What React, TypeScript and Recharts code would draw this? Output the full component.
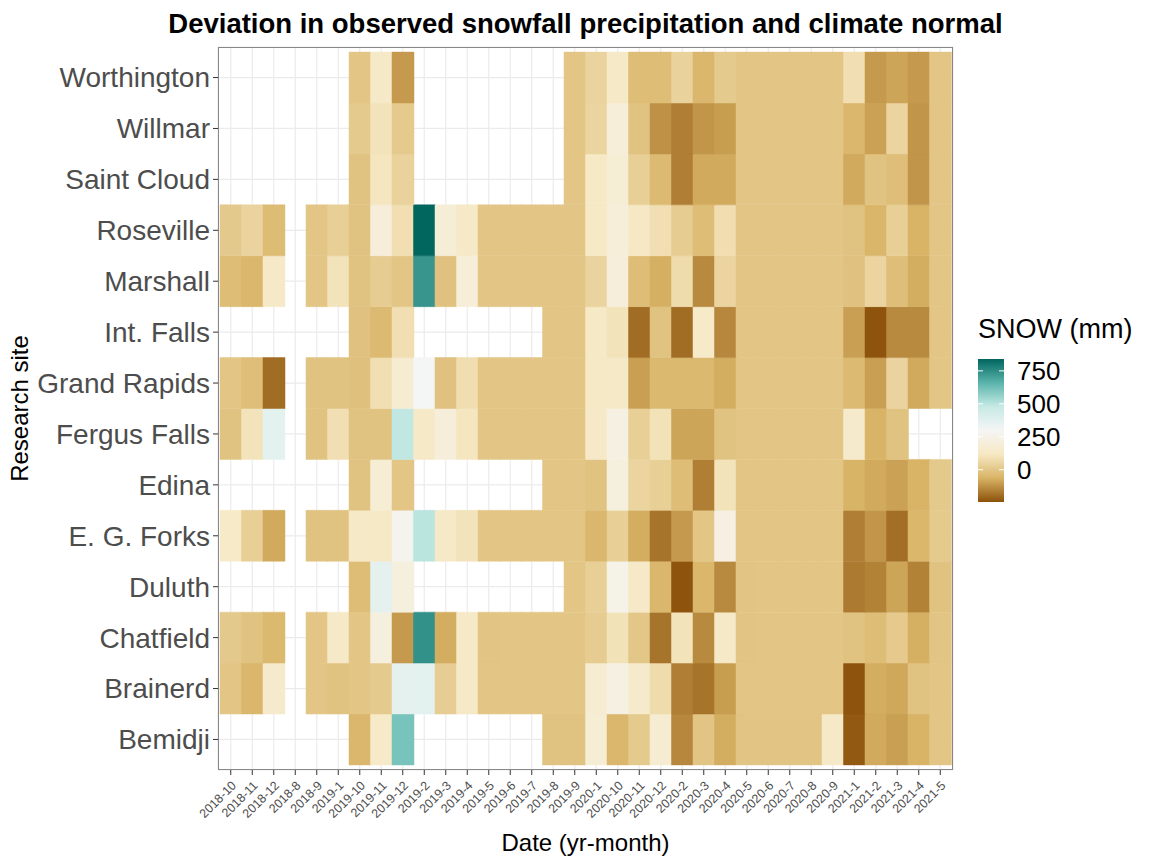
import { BarChart, Bar, Cell, XAxis, YAxis, CartesianGrid } from "recharts";

const N = null;

// x categories, in the (alphabetical) order the original plot used
const months = [
  "2018-10", "2018-11", "2018-12", "2018-8", "2018-9", "2019-1", "2019-10",
  "2019-11", "2019-12", "2019-2", "2019-3", "2019-4", "2019-5", "2019-6",
  "2019-7", "2019-8", "2019-9", "2020-1", "2020-10", "2020-11", "2020-12",
  "2020-2", "2020-3", "2020-4", "2020-5", "2020-6", "2020-7", "2020-8",
  "2020-9", "2021-1", "2021-2", "2021-3", "2021-4", "2021-5",
];

// bottom to top
const siteNames = [
  "Bemidji", "Brainerd", "Chatfield", "Duluth", "E. G. Forks", "Edina",
  "Fergus Falls", "Grand Rapids", "Int. Falls", "Marshall", "Roseville",
  "Saint Cloud", "Willmar", "Worthington",
];

// snowfall deviation (mm), one value per month, null = no data
const bemidji = [N, N, N, N, N, N, -50, 140, 610, N, N, N, N, N, N, -10, -10, 180, -50, 15, 170, -145, -5, -75, -5, -5, -5, -5, 135, -230, -80, -100, -60, 0];
const brainerd = [0, -50, 150, N, 0, -10, 0, 15, 360, 370, 25, 130, 0, 0, 0, 0, 0, 170, 230, 150, 75, -160, -180, -105, 0, 0, 0, 0, 0, -240, -75, -85, -10, 0];
const chatfield = [10, -10, -45, N, 0, 130, 0, 210, -110, 740, -75, 130, -5, 0, 0, 0, 0, 20, 95, 5, -180, 100, -140, 130, -5, 0, 0, 0, 0, -10, -30, 12, -70, -5];
const duluth = [N, N, N, N, N, N, -30, 360, 210, N, N, N, N, N, N, N, 0, 30, 250, 130, -50, -240, -52, -140, -5, 0, 0, 0, 0, -170, -155, -90, -155, -10];
const egForks = [140, 30, -80, N, -10, -10, 130, 125, 270, 500, 130, 100, 0, 0, 0, 0, 0, -50, 30, -75, -180, -110, 0, 230, 0, 0, 0, 0, 0, -160, -118, -190, -52, 15];
const edina = [N, N, N, N, N, N, -10, 180, 0, N, N, N, N, N, N, 0, 0, -10, 210, 50, 30, -30, -160, 100, 0, 0, 0, 0, 0, -62, -80, -95, -60, 10];
const fergusFalls = [-10, 100, 370, N, -10, 85, -10, -10, 490, 130, 200, 110, 0, 0, 0, 0, 0, 135, 230, 30, 95, -90, -90, -10, 0, 0, 0, 0, 0, 150, -60, -10, N, N];
const grandRapids = [0, -25, -195, N, -10, -10, -20, 85, 170, 300, -15, 80, 0, 0, 0, 0, 0, 125, 130, -100, -45, -45, -45, -75, 0, 0, 0, 0, 0, -40, -100, 45, -80, 0];
const intFalls = [N, N, N, N, N, N, -15, -40, 85, N, N, N, N, N, N, 0, 0, 125, 100, -195, -10, -195, 140, -145, 0, 0, 0, 0, 0, -100, -240, -140, -140, 0];
const marshall = [-30, -52, 135, N, 0, 100, -10, 20, 0, 730, -15, 195, 0, 0, 0, 0, 0, 45, 200, -30, -70, 75, -140, 50, 0, 0, 0, 0, 0, -15, 50, -25, -75, 0];
const roseville = [10, 45, -35, N, 0, 30, -10, 200, 85, 840, 190, 130, 0, 0, 0, 0, 0, 125, 195, 120, 85, 20, -30, 80, 0, 0, 0, 0, 0, -10, -55, 30, -60, 0];
const saintCloud = [N, N, N, N, N, N, -10, 110, 40, N, N, N, N, N, N, N, 0, 125, 180, 30, -40, -160, -80, -80, 0, 0, 0, 0, 0, -80, -10, -28, -118, 0];
const willmar = [N, N, N, N, N, N, 15, 100, 15, N, N, N, N, N, N, N, 0, 50, 195, -10, -125, -160, -118, -105, 0, 0, 0, 0, 0, -50, -95, 50, -118, 0];
const worthington = [N, N, N, N, N, N, 0, 130, -110, N, N, N, N, N, N, N, 0, 45, 130, -30, -30, 40, -50, 15, 0, 0, 0, 0, 0, 85, -110, -90, -110, 0];

const siteValues = [
  bemidji, brainerd, chatfield, duluth, egForks, edina, fergusFalls,
  grandRapids, intFalls, marshall, roseville, saintCloud, willmar, worthington,
];

const legendBreaks = [0, 250, 500, 750];
const scaleMin = -245;
const scaleMax = 840;

// BrBG, 7 classes
const PALETTE = ["#8c510a", "#d8b365", "#f6e8c3", "#f5f5f5", "#c7eae5", "#5ab4ac", "#01665e"];

function hexToRgb(h: string) {
  return [1, 3, 5].map((i) => parseInt(h.slice(i, i + 2), 16));
}

function snowColor(v: number) {
  const t = Math.min(1, Math.max(0, (v - scaleMin) / (scaleMax - scaleMin)));
  const pos = t * (PALETTE.length - 1);
  const i = Math.min(PALETTE.length - 2, Math.floor(pos));
  const f = pos - i;
  const a = hexToRgb(PALETTE[i]);
  const b = hexToRgb(PALETTE[i + 1]);
  const c = a.map((x, k) => Math.round(x + (b[k] - x) * f));
  return `rgb(${c[0]},${c[1]},${c[2]})`;
}

const rows = months.map((month) => {
  const row: Record<string, string | number> = { month };
  siteNames.forEach((_, si) => {
    row[`u${si}`] = 1;
  });
  return row;
});

const FONT = "'Liberation Sans', Arial, sans-serif";
const W = 1150;
const H = 859;
const PLOT = { left: 218, top: 47, right: 953, bottom: 770 };

function MonthTick(props: any) {
  const { x, y, payload } = props;
  return (
    <text
      transform={`translate(${x},${y + 3}) rotate(-45)`}
      textAnchor="end"
      dy="0.71em"
      fontSize={12.5}
      fill="#4d4d4d"
      fontFamily={FONT}
    >
      {payload.value}
    </text>
  );
}

function ColourLegend() {
  const barX = 978;
  const barW = 26;
  const barTop = 359;
  const barBottom = 502;
  const yOf = (v: number) =>
    barBottom - ((v - scaleMin) / (scaleMax - scaleMin)) * (barBottom - barTop);
  return (
    <g fontFamily={FONT}>
      <defs>
        <linearGradient id="snowGrad" x1="0" y1="1" x2="0" y2="0">
          {PALETTE.map((c, i) => (
            <stop key={c} offset={i / (PALETTE.length - 1)} stopColor={c} />
          ))}
        </linearGradient>
      </defs>
      <text x={978} y={338} fontSize={27} fill="#000">
        SNOW (mm)
      </text>
      <rect x={barX} y={barTop} width={barW} height={barBottom - barTop} fill="url(#snowGrad)" />
      {legendBreaks.map((b) => (
        <g key={b}>
          <line x1={barX} x2={barX + 5} y1={yOf(b)} y2={yOf(b)} stroke="#fff" strokeWidth={1} />
          <line x1={barX + barW - 5} x2={barX + barW} y1={yOf(b)} y2={yOf(b)} stroke="#fff" strokeWidth={1} />
          <text x={1017} y={yOf(b)} dy="0.36em" fontSize={26} fill="#000">
            {b}
          </text>
        </g>
      ))}
    </g>
  );
}

export default function App() {
  const cx = (PLOT.left + PLOT.right) / 2;
  const cy = (PLOT.top + PLOT.bottom) / 2;
  return (
    <div style={{ position: "relative", width: W, height: H, background: "#fff", fontFamily: FONT }}>
      <style>{`body{margin:0}`}</style>
      <BarChart
        width={W}
        height={H}
        data={rows}
        margin={{ top: PLOT.top, right: W - PLOT.right, bottom: 0, left: 0 }}
        barCategoryGap={0}
        barGap={0}
      >
        <CartesianGrid stroke="#ebebeb" strokeWidth={1.2} />
        <XAxis
          dataKey="month"
          type="category"
          interval={0}
          height={H - PLOT.bottom}
          padding={{ left: 2, right: 2 }}
          axisLine={false}
          tickLine={{ stroke: "#333" }}
          tickSize={5}
          tick={<MonthTick />}
        />
        <YAxis
          type="number"
          domain={[-0.1, siteNames.length + 0.1]}
          allowDataOverflow
          ticks={siteNames.map((_, i) => i + 0.5)}
          tickFormatter={(v: number) => siteNames[Math.floor(v)]}
          width={PLOT.left}
          axisLine={false}
          tickLine={{ stroke: "#333" }}
          tickSize={5}
          tickMargin={3}
          tick={{ fontSize: 28, fill: "#4d4d4d", fontFamily: FONT }}
        />
        {siteNames.map((name, si) => (
          <Bar key={name} dataKey={`u${si}`} stackId="tiles" isAnimationActive={false}>
            {months.map((m, mi) => {
              const v = siteValues[si][mi];
              const fill = v == null ? "transparent" : snowColor(v);
              return (
                <Cell
                  key={m}
                  fill={fill}
                  stroke={v == null ? "none" : fill}
                  strokeWidth={0.5}
                />
              );
            })}
          </Bar>
        ))}
      </BarChart>
      <svg
        width={W}
        height={H}
        style={{ position: "absolute", left: 0, top: 0, pointerEvents: "none" }}
      >
        <rect
          x={PLOT.left + 0.5}
          y={PLOT.top + 0.5}
          width={PLOT.right - PLOT.left - 1}
          height={PLOT.bottom - PLOT.top - 1}
          fill="none"
          stroke="#888"
          strokeWidth={1}
        />
        <text x={cx} y={33} textAnchor="middle" fontSize={27.5} fontWeight="bold" fill="#000" fontFamily={FONT}>
          Deviation in observed snowfall precipitation and climate normal
        </text>
        <text x={cx} y={851} textAnchor="middle" fontSize={24} fill="#000" fontFamily={FONT}>
          Date (yr-month)
        </text>
        <text
          transform={`translate(28,${cy}) rotate(-90)`}
          textAnchor="middle"
          fontSize={24}
          fill="#000"
          fontFamily={FONT}
        >
          Research site
        </text>
        <ColourLegend />
      </svg>
    </div>
  );
}
